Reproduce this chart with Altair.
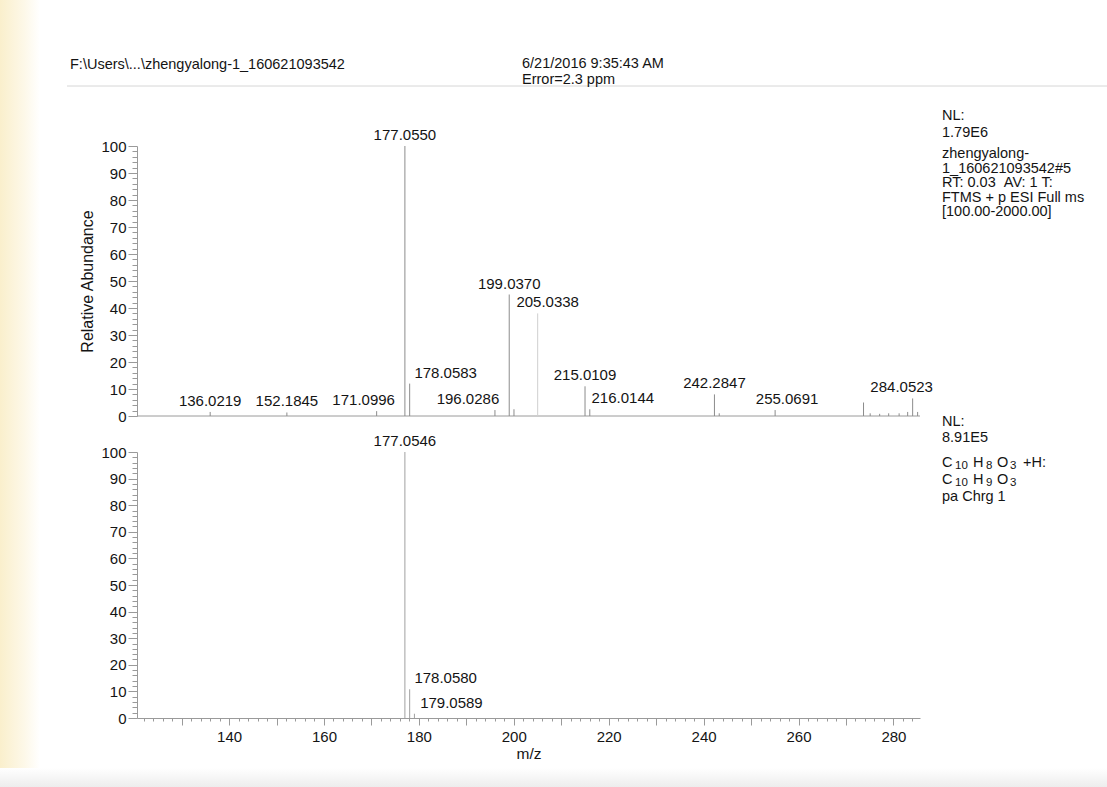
import altair as alt
import pandas as pd

# ---- data -------------------------------------------------------------
# Measured scan (#5): labelled centroid peaks, m/z and relative abundance (%)
scan_mz = [136.0219, 152.1845, 171.0996, 177.0550, 178.0583, 196.0286,
           199.0370, 205.0338, 215.0109, 216.0144, 242.2847, 255.0691, 284.0523]
scan_ab = [1.5, 1.3, 1.8, 100.0, 12.0, 2.2, 45.0, 38.0, 11.0, 2.5, 8.0, 2.2, 6.5]

# Smaller unlabelled peaks of the same scan
minor_mz = [200.04, 243.29, 273.70, 275.10, 277.10, 279.00, 281.20, 283.00, 285.10]
minor_ab = [2.5, 1.0, 5.0, 1.0, 0.8, 1.0, 1.0, 1.5, 1.5]

# Simulated isotope pattern for C10 H9 O3 (charge 1)
theo_mz = [177.0546, 178.0580, 179.0589]
theo_ab = [100.0, 10.8, 1.6]

header_left = "F:\\Users\\...\\zhengyalong-1_160621093542"
header_date = "6/21/2016 9:35:43 AM"
header_error = "Error=2.3 ppm"
scan_nl = ["NL:", "1.79E6"]
scan_info = ["zhengyalong-", "1_160621093542#5", "RT: 0.03 \u00a0AV: 1 T:",
             "FTMS + p ESI Full ms", "[100.00-2000.00]"]
theo_nl = ["NL:", "8.91E5"]
# elemental formulas as (element, count) pairs
formula_ion = [("C", "10"), ("H", "8"), ("O", "3")]
formula_adduct = [("C", "10"), ("H", "9"), ("O", "3")]
theo_tail = "pa Chrg 1"

# ---- layout / style ---------------------------------------------------
FONT = "Liberation Sans"
W = 783            # plot width
TOP_H = 270        # upper spectrum height
GAP = 36
H = 572            # both spectra including the gap
PAD_L, PAD_T = 137, 146
LINE = "#8c8c8c"
AXIS = "#9a9a9a"
INK = "#141414"
NOTE_SIZE = 14.5

# horizontal nudges that keep peak labels clear of neighbouring sticks
label_dx = {"171.0996": -13, "178.0583": 36, "196.0286": -27, "205.0338": 10,
            "216.0144": 33, "255.0691": 12, "284.0523": -11,
            "178.0580": 36, "179.0589": 37}

scan = pd.DataFrame({"mz": scan_mz, "ab": scan_ab})
scan["label"] = [f"{v:.4f}" for v in scan_mz]
minor = pd.DataFrame({"mz": minor_mz, "ab": minor_ab})
theo = pd.DataFrame({"mz": theo_mz, "ab": theo_ab})
theo["label"] = [f"{v:.4f}" for v in theo_mz]

x_scale = alt.Scale(domain=[120.6, 285.6], nice=False, zero=False)
x_axis = alt.Axis(
    values=list(range(122, 286, 2)), format="d",
    labelExpr="datum.value % 20 === 0 ? datum.label : ''",
    tickSize={"condition": {"test": "datum.value % 10 === 0", "value": 7}, "value": 3},
    title="m/z", titleFontSize=15.5, titleFontWeight="normal", titleColor=INK,
    titleFont=FONT, titlePadding=2, labelFont=FONT, labelFontSize=15,
    labelColor=INK, labelPadding=4, domainColor=AXIS, tickColor=AXIS,
    grid=False, labelFlush=False, labelOverlap=False,
)


def x_enc():
    return alt.X("mz:Q", scale=x_scale, axis=x_axis)


def y_axis(title=None):
    kw = dict(
        orient="left", values=list(range(0, 101, 2)), format="d",
        labelExpr="datum.value % 10 === 0 ? datum.label : ''",
        tickSize={"condition": {"test": "datum.value % 10 === 0", "value": 9}, "value": 5},
        labelFont=FONT, labelFontSize=15, labelColor=INK, labelPadding=2,
        domainColor=AXIS, tickColor=AXIS, grid=False, labelOverlap=False,
        labelFlush=False,
    )
    if title:
        kw.update(title=title, titleFont=FONT, titleFontSize=16,
                  titleFontWeight="normal", titleColor=INK, titlePadding=5)
    else:
        kw.update(title=None)
    return alt.Axis(**kw)


top_scale = alt.Scale(domain=[0, 100], range=[TOP_H, 0], nice=False)
bot_scale = alt.Scale(domain=[0, 100], range=[H, TOP_H + GAP], nice=False)
top_axis = y_axis("Relative Abundance")
bot_axis = y_axis()


def y_top():
    return alt.Y("ab:Q", scale=top_scale, axis=top_axis)


def y_bot():
    return alt.Y("ab:Q", scale=bot_scale, axis=bot_axis)


def sticks(df, yfn, color=LINE):
    return alt.Chart(df).mark_rule(color=color, strokeWidth=1).encode(
        x=x_enc(), y=yfn(), y2=alt.datum(0))


def peak_labels(df, yfn):
    layers = []
    for _, row in df.iterrows():
        one = pd.DataFrame([row])
        layers.append(
            alt.Chart(one).mark_text(
                font=FONT, fontSize=15, color=INK, baseline="bottom",
                dy=-3, dx=label_dx.get(row["label"], 0)
            ).encode(x=x_enc(), y=yfn(), text="label:N")
        )
    return layers


# upper panel: measured spectrum
baseline_top = alt.Chart(pd.DataFrame({"ab": [0]})).mark_rule(
    color=AXIS, strokeWidth=1).encode(y=y_top())
upper = alt.layer(
    baseline_top,
    sticks(minor, y_top),
    sticks(scan[scan["label"] != "205.0338"], y_top),
    sticks(scan[scan["label"] == "205.0338"], y_top, color="#cfcfcf"),
    *peak_labels(scan, y_top),
)

# lower panel: simulated isotope pattern
lower = alt.layer(
    sticks(theo, y_bot, color="#a0a0a0"),
    *peak_labels(theo, y_bot),
)

one_row = pd.DataFrame({"k": [0]})


def note(text, x, y, size=NOTE_SIZE, dy=0):
    # free text positioned in page pixels
    return alt.Chart(one_row).mark_text(
        font=FONT, fontSize=size, color=INK, align="left", baseline="middle", dy=dy
    ).encode(x=alt.value(x - PAD_L), y=alt.value(y - PAD_T), text=alt.value(text))


def formula(parts, x, y, tail=""):
    # element symbols with lowered, smaller atom counts
    out = []
    for sym, n in parts:
        out.append(note(sym, x, y))
        x += 13
        out.append(note(n, x, y, size=11.5, dy=3))
        x += 7 * len(n) + 4
    if tail:
        out.append(note(tail, x + 2, y))
    return out


notes = [
    note(header_left, 70, 65, 14.5),
    note(header_date, 522, 64, 14.5),
    note(header_error, 522, 80, 14.5),
]
for s, yy in zip(scan_nl, [116, 133]):
    notes.append(note(s, 942, yy))
for i, s in enumerate(scan_info):
    notes.append(note(s, 942, 154 + i * NOTE_SIZE))
for s, yy in zip(theo_nl, [422, 438]):
    notes.append(note(s, 942, yy))
notes += formula(formula_ion, 942, 463, "+H:")
notes += formula(formula_adduct, 942, 480)
notes.append(note(theo_tail, 942, 497))

rule_header = alt.Chart(one_row).mark_rule(color="#d6d6d6", strokeWidth=1).encode(
    x=alt.value(67 - PAD_L), x2=alt.value(1107 - PAD_L), y=alt.value(86 - PAD_T))

# paper tint along the left edge and the bottom of the sheet
paper_left = alt.Chart(one_row).mark_rect(
    fill=alt.Gradient(gradient="linear",
                      stops=[alt.GradientStop(color="#faefcc", offset=0),
                             alt.GradientStop(color="#fdf8e8", offset=0.6),
                             alt.GradientStop(color="#ffffff", offset=1)],
                      x1=0, x2=1, y1=0, y2=0)
).encode(x=alt.value(-PAD_L), x2=alt.value(40 - PAD_L),
         y=alt.value(-PAD_T), y2=alt.value(787 - PAD_T))
paper_bottom = alt.Chart(one_row).mark_rect(
    fill=alt.Gradient(gradient="linear",
                      stops=[alt.GradientStop(color="#ffffff", offset=0),
                             alt.GradientStop(color="#ededed", offset=1)],
                      x1=0, x2=0, y1=0, y2=1)
).encode(x=alt.value(-PAD_L), x2=alt.value(1107 - PAD_L),
         y=alt.value(768 - PAD_T), y2=alt.value(787 - PAD_T))

chart = alt.layer(
    paper_left, paper_bottom, rule_header, upper, lower, *notes
).resolve_scale(y="independent").properties(
    width=W, height=H,
    autosize=alt.AutoSizeParams(type="none"),
    padding={"left": PAD_L, "top": PAD_T, "right": 1107 - PAD_L - W,
             "bottom": 787 - PAD_T - H},
    background="#ffffff",
).configure_view(strokeWidth=0)

chart.save("out.html", embed_options={"renderer": "svg", "actions": False})
